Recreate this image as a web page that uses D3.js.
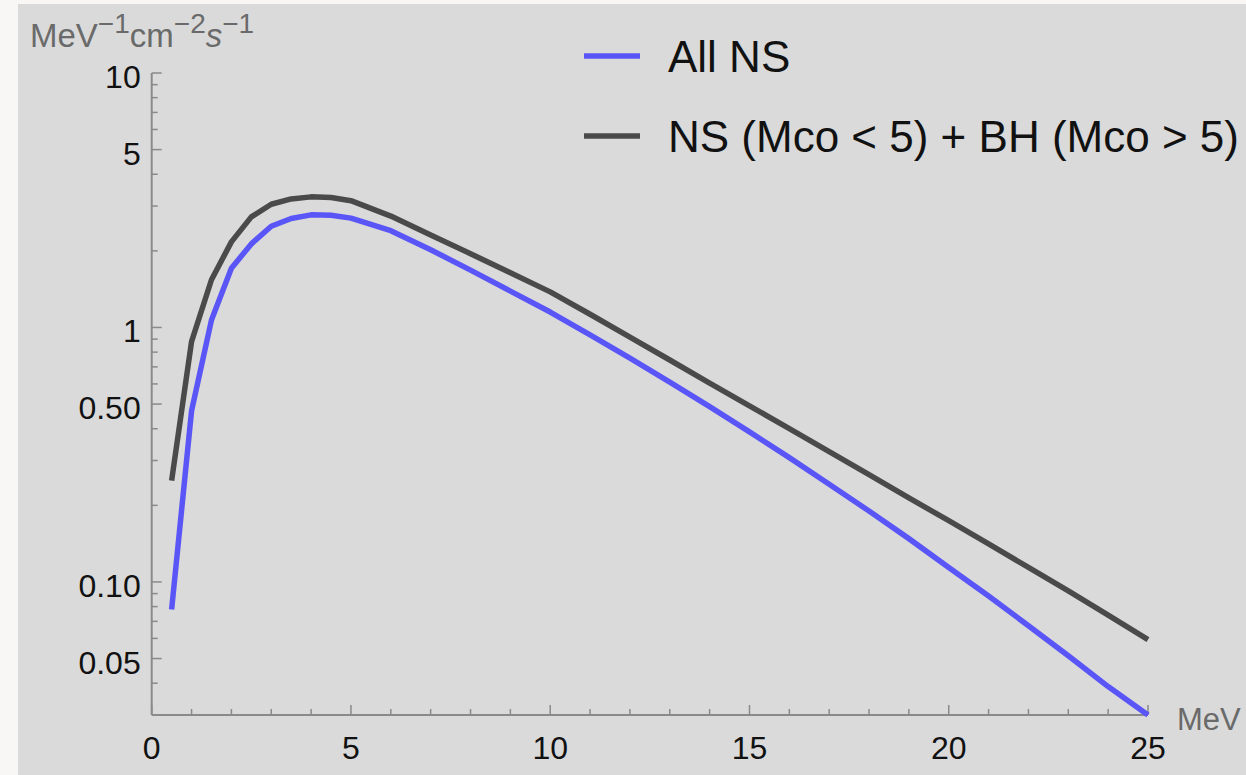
<!DOCTYPE html>
<html>
<head>
<meta charset="utf-8">
<script src="https://cdn.jsdelivr.net/npm/d3@7"></script>
<style>
  html, body { margin: 0; padding: 0; background: #f8f7f6; }
  svg { display: block; }
  text { font-family: "Liberation Sans", Arial, Helvetica, sans-serif; }
</style>
</head>
<body>
<svg id="chart" width="1246" height="775"></svg>
<script>
// Neutrino energy (MeV) at which the spectra are sampled
const energy = [0.5, 1, 1.5, 2, 2.5, 3, 3.5, 4, 4.5, 5, 6, 7, 8, 9, 10,
                11, 12, 13, 14, 15, 16, 17, 18, 19, 20, 21, 22, 23, 24, 25];

// Flux, MeV^-1 cm^-2 s^-1 — all remnants treated as neutron stars
const fluxAllNS = [0.078, 0.47, 1.07, 1.71, 2.13, 2.50, 2.68, 2.77, 2.76, 2.69,
                   2.40, 2.02, 1.68, 1.39, 1.15, 0.935, 0.757, 0.610, 0.489, 0.389,
                   0.308, 0.242, 0.190, 0.148, 0.114, 0.0880, 0.0673, 0.0513, 0.0388, 0.030];

// Flux — NS for Mco < 5, BH for Mco > 5
const fluxNSBH = [0.25, 0.88, 1.54, 2.17, 2.72, 3.05, 3.20, 3.26, 3.24, 3.15,
                  2.74, 2.31, 1.95, 1.64, 1.38, 1.127, 0.916, 0.745, 0.605, 0.492,
                  0.400, 0.325, 0.264, 0.214, 0.174, 0.141, 0.114, 0.0923, 0.0740, 0.0593];

const seriesNames = ["All NS", "NS (Mco < 5) + BH (Mco > 5)"];
const seriesColors = ["#5a55f7", "#4a4a4a"];

const xMajorTicks = [0, 5, 10, 15, 20, 25];
const yMajorTicks = [10, 5, 1, 0.5, 0.1, 0.05];
const yTickLabels = ["10", "5", "1", "0.50", "0.10", "0.05"];

const svg = d3.select("#chart");

// panel background
svg.append("rect")
  .attr("x", 18).attr("y", 4).attr("width", 1228).attr("height", 771)
  .attr("fill", "#dadada");

const x = d3.scaleLinear().domain([0, 25]).range([151.7, 1148]);
const y = d3.scaleLog().domain([0.03, 10]).range([715, 73]);

const axisColor = "#8a8a8a";

// minor and major ticks on x
const xMinor = d3.range(0, 26).filter(v => v % 5 !== 0);
const gx = svg.append("g");
gx.selectAll("line.minor").data(xMinor).join("line")
  .attr("x1", d => x(d)).attr("x2", d => x(d))
  .attr("y1", y(0.03)).attr("y2", y(0.03) - 6)
  .attr("stroke", axisColor).attr("stroke-width", 1.5);
gx.selectAll("line.major").data(xMajorTicks).join("line")
  .attr("x1", d => x(d)).attr("x2", d => x(d))
  .attr("y1", y(0.03)).attr("y2", y(0.03) - 10)
  .attr("stroke", axisColor).attr("stroke-width", 1.5);
gx.append("line")
  .attr("x1", x(0)).attr("x2", x(25))
  .attr("y1", y(0.03)).attr("y2", y(0.03))
  .attr("stroke", axisColor).attr("stroke-width", 2);
gx.selectAll("text").data(xMajorTicks).join("text")
  .attr("x", d => x(d)).attr("y", 759)
  .attr("text-anchor", "middle")
  .attr("font-size", 32).attr("fill", "#111")
  .text(d => d);

// minor and major ticks on y (log)
const yMinor = [];
[0.01, 0.1, 1].forEach(dec => {
  for (let k = 1; k <= 9; k++) {
    const v = +(k * dec).toPrecision(3);
    if (v > 0.03 && v < 10 && !yMajorTicks.includes(v)) yMinor.push(v);
  }
});
const gy = svg.append("g");
gy.selectAll("line.minor").data(yMinor).join("line")
  .attr("x1", x(0)).attr("x2", x(0) + 6)
  .attr("y1", d => y(d)).attr("y2", d => y(d))
  .attr("stroke", axisColor).attr("stroke-width", 1.5);
gy.selectAll("line.major").data(yMajorTicks).join("line")
  .attr("x1", x(0)).attr("x2", x(0) + 10)
  .attr("y1", d => y(d)).attr("y2", d => y(d))
  .attr("stroke", axisColor).attr("stroke-width", 1.5);
gy.append("line")
  .attr("x1", x(0)).attr("x2", x(0))
  .attr("y1", y(10)).attr("y2", y(0.03))
  .attr("stroke", axisColor).attr("stroke-width", 2);
gy.selectAll("text").data(yMajorTicks).join("text")
  .attr("x", x(0) - 11).attr("y", d => y(d) + 15)
  .attr("text-anchor", "end")
  .attr("font-size", 32).attr("fill", "#111")
  .text((d, i) => yTickLabels[i]);

// axis units
const unit = svg.append("text")
  .attr("x", 30).attr("y", 47)
  .attr("font-size", 33).attr("fill", "#6a6a6a");
[["MeV", false, false], ["\u22121", true, false], ["cm", false, false],
 ["\u22122", true, false], ["s", false, true], ["\u22121", true, false]]
  .forEach(([t, sup, ital]) => {
    const ts = unit.append("tspan").text(t);
    if (sup) ts.attr("font-size", 28).attr("dy", -14);
    else if (t !== "MeV") ts.attr("dy", 14);
    if (ital) ts.attr("font-style", "italic");
  });

svg.append("text")
  .attr("x", 1177).attr("y", 730)
  .attr("font-size", 31).attr("fill", "#6a6a6a")
  .text("MeV");

// spectra
const line = d3.line().x(d => x(d[0])).y(d => y(d[1]));
[fluxAllNS, fluxNSBH].forEach((vals, i) => {
  svg.append("path")
    .datum(energy.map((e, j) => [e, vals[j]]))
    .attr("d", line)
    .attr("fill", "none")
    .attr("stroke", seriesColors[i])
    .attr("stroke-width", 5.5)
    .attr("stroke-linejoin", "round");
});

// legend
const legendY = [56, 136];
seriesNames.forEach((name, i) => {
  svg.append("line")
    .attr("x1", 584).attr("x2", 640)
    .attr("y1", legendY[i]).attr("y2", legendY[i])
    .attr("stroke", seriesColors[i]).attr("stroke-width", 5.5);
  svg.append("text")
    .attr("x", 668).attr("y", legendY[i] + 16)
    .attr("font-size", 44).attr("fill", "#111")
    .text(name);
});
</script>
</body>
</html>
